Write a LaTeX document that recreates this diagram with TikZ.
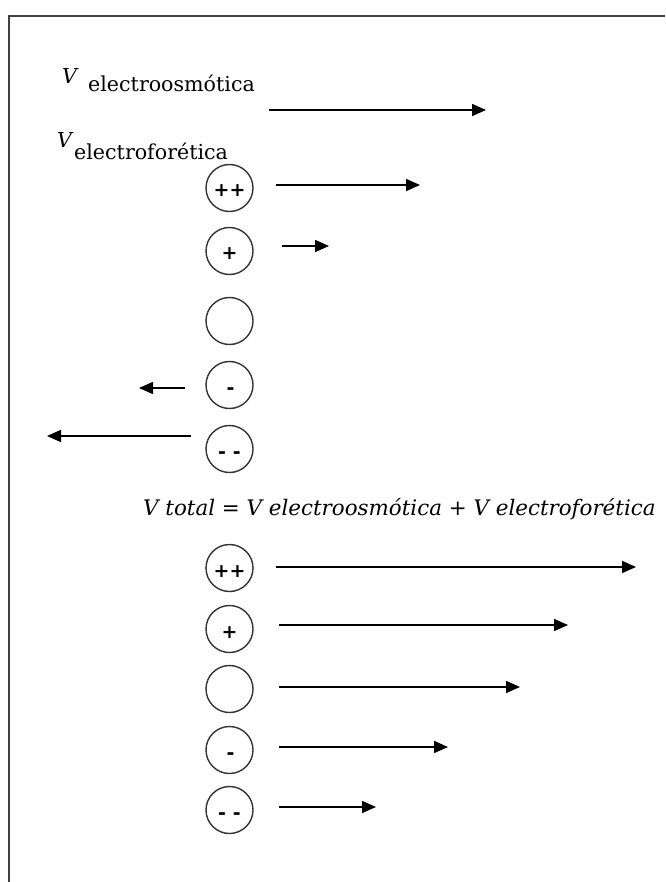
\documentclass[tikz,border=0pt]{standalone}
\usepackage{fontspec}
\setmainfont{DejaVu Serif}
\newfontfamily\chgfont{DejaVu Sans}
\usetikzlibrary{arrows.meta}
\tikzset{
  frameline/.style={line width=2.2pt, draw=black!75},
  particle/.style={circle, draw=black!80, line width=1.4pt, minimum size=47pt, inner sep=0pt},
  charge/.style={anchor=base, inner sep=0pt, font=\chgfont\bfseries\fontsize{19}{22}\selectfont},
  vel/.style={line width=1.5pt, -{Triangle[length=14pt,width=12pt]}},
  lbl/.style={anchor=base west, inner sep=0pt, font=\fontsize{20.6}{24}\selectfont},
  eqn/.style={anchor=base west, inner sep=0pt, font=\itshape\fontsize{21.4}{24}\selectfont}
}
\begin{document}
\begin{tikzpicture}[x=1pt,y=-1pt]
\useasboundingbox (0,0) rectangle (665,882);
% frame
\coordinate (fbl) at (9,882);
\coordinate (ftl) at (9,16);
\coordinate (ftr) at (665,16);
\draw[frameline] (fbl) -- (ftl) -- (ftr);

% labels
\node[lbl] (veoV) at (62,84) {\itshape V};
\node[lbl] (veo) at (88,92) {electroosmótica};
\coordinate (aeo1) at (269,110);
\coordinate (aeo2) at (486,110);
\draw[vel] (aeo1) -- (aeo2);

\node[lbl] (vefV) at (57,148) {\itshape V};
\node[lbl] (vef) at (74,160) {electroforética};

% top group (electrophoretic)
\node[particle] (t1) at (229.5,188) {};
\node[particle] (t2) at (229.5,251) {};
\node[particle] (t3) at (229.5,321) {};
\node[particle] (t4) at (229.5,385) {};
\node[particle] (t5) at (229.5,449) {};
\node[charge] (t1c) at (229.5,197) {++};
\node[charge] (t2c) at (229.5,260) {+};
\node[charge] (t4c) at (230.5,394) {-};
\node[charge] (t5c) at (229.5,458) {-\hspace{7pt}-};

\coordinate (ta1) at (276,185); \coordinate (tb1) at (420,185);
\coordinate (ta2) at (282,246); \coordinate (tb2) at (329,246);
\coordinate (ta4) at (185,388); \coordinate (tb4) at (139,388);
\coordinate (ta5) at (191,436); \coordinate (tb5) at (47,436);
\draw[vel] (ta1) -- (tb1);
\draw[vel] (ta2) -- (tb2);
\draw[vel] (ta4) -- (tb4);
\draw[vel] (ta5) -- (tb5);

% equation
\node[eqn] (eq) at (143,515) {V total = V electroosmótica + V electroforética};

% bottom group (total)
\node[particle] (b1) at (229.5,568) {};
\node[particle] (b2) at (229.5,629) {};
\node[particle] (b3) at (229.5,689) {};
\node[particle] (b4) at (229.5,750) {};
\node[particle] (b5) at (229.5,810) {};
\node[charge] (b1c) at (229.5,577) {++};
\node[charge] (b2c) at (229.5,638) {+};
\node[charge] (b4c) at (230.5,759) {-};
\node[charge] (b5c) at (229.5,819) {-\hspace{7pt}-};

\coordinate (ba1) at (276,567); \coordinate (bb1) at (636,567);
\coordinate (ba2) at (279,625); \coordinate (bb2) at (568,625);
\coordinate (ba3) at (279,687); \coordinate (bb3) at (520,687);
\coordinate (ba4) at (279,747); \coordinate (bb4) at (448,747);
\coordinate (ba5) at (279,807); \coordinate (bb5) at (376,807);
\draw[vel] (ba1) -- (bb1);
\draw[vel] (ba2) -- (bb2);
\draw[vel] (ba3) -- (bb3);
\draw[vel] (ba4) -- (bb4);
\draw[vel] (ba5) -- (bb5);
\end{tikzpicture}
\end{document}
